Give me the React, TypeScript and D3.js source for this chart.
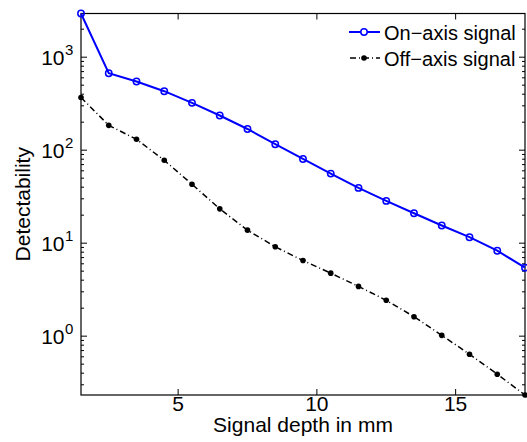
import React from "react";
import * as d3 from "d3";

const depths = [1.5, 2.5, 3.5, 4.5, 5.5, 6.5, 7.5, 8.5, 9.5, 10.5, 11.5, 12.5, 13.5, 14.5, 15.5, 16.5, 17.5];
const onAxis = [2950, 673, 547, 431, 323, 236, 169, 116, 80.5, 56, 39.3, 28.5, 21, 15.5, 11.6, 8.3, 5.45];
const offAxis = [369, 185, 131, 77.8, 43, 23.4, 13.8, 9.15, 6.5, 4.76, 3.43, 2.43, 1.62, 1.02, 0.64, 0.39, 0.233];
const xTicks = [5, 10, 15];
const yTickExps = [0, 1, 2, 3];
const seriesNames = ["On\u2212axis signal", "Off\u2212axis signal"];

const W = 527, H = 442;
const L = 81, R = 525, T = 13.5, B = 395;
const FONT = "Liberation Sans, Arial, Helvetica, sans-serif";
const FS = 21;

export default function App() {
  const x = d3.scaleLinear().domain([1.5, 17.5]).range([L, R]);
  const y = d3.scaleLog().domain([offAxis[offAxis.length - 1], onAxis[0]]).range([B, T]);
  const line = d3.line<number>().x((_, i) => x(depths[i])).y((v) => y(v));

  const minor: number[] = [];
  for (let e = -1; e <= 3; e++) {
    for (let m = 2; m <= 9; m++) {
      const v = m * Math.pow(10, e);
      if (v >= y.domain()[0] && v <= y.domain()[1]) minor.push(v);
    }
  }

  return (
    <svg width={W} height={H} style={{ position: "absolute", left: 0, top: 0 }} fontFamily={FONT}>
      <rect x={0} y={0} width={W} height={H} fill="#fff" />
      {minor.map((v, i) => (
        <g key={"m" + i} stroke="#000" strokeWidth={1}>
          <line x1={L} x2={L + 3} y1={y(v)} y2={y(v)} />
          <line x1={R} x2={R - 3} y1={y(v)} y2={y(v)} />
        </g>
      ))}
      {yTickExps.map((e) => {
        const v = Math.pow(10, e);
        const yy = y(v);
        return (
          <g key={"y" + e}>
            <line x1={L} x2={L + 6} y1={yy} y2={yy} stroke="#000" strokeWidth={1} />
            <line x1={R} x2={R - 6} y1={yy} y2={yy} stroke="#000" strokeWidth={1} />
            <text x={64.5} y={yy + 7.5} fontSize={FS} textAnchor="end" fill="#000">10</text>
            <text x={65} y={yy - 2} fontSize={15} textAnchor="start" fill="#000">{e}</text>
          </g>
        );
      })}
      {xTicks.map((t) => (
        <g key={"x" + t}>
          <line x1={x(t)} x2={x(t)} y1={B} y2={B - 6} stroke="#000" strokeWidth={1} />
          <line x1={x(t)} x2={x(t)} y1={T} y2={T + 6} stroke="#000" strokeWidth={1} />
          <text x={x(t)} y={411} fontSize={FS} textAnchor="middle" fill="#000">{t}</text>
        </g>
      ))}
      <rect x={L} y={T} width={R - L} height={B - T} fill="none" stroke="#000" strokeWidth={1.2} />
      <path d={line(offAxis) || ""} fill="none" stroke="#000" strokeWidth={1.5} strokeDasharray="6,3,1,3" />
      {offAxis.map((v, i) => (
        <circle key={"o" + i} cx={x(depths[i])} cy={y(v)} r={2.8} fill="#000" />
      ))}
      <path d={line(onAxis) || ""} fill="none" stroke="#0000ff" strokeWidth={2} />
      {onAxis.map((v, i) => (
        <circle key={"n" + i} cx={x(depths[i])} cy={y(v)} r={3.2} fill="none" stroke="#0000ff" strokeWidth={1.5} />
      ))}
      <g>
        <line x1={349} x2={380} y1={32} y2={32} stroke="#0000ff" strokeWidth={2} />
        <circle cx={364} cy={32} r={3.2} fill="#fff" stroke="#0000ff" strokeWidth={1.5} />
        <text x={384} y={39.5} fontSize={20} fill="#000">{seriesNames[0]}</text>
        <line x1={350} x2={380} y1={58} y2={58} stroke="#000" strokeWidth={1.5} strokeDasharray="6,3,1,3" />
        <circle cx={364} cy={58} r={2.8} fill="#000" />
        <text x={384} y={65.5} fontSize={20} fill="#000">{seriesNames[1]}</text>
      </g>
      <text x={(L + R) / 2} y={432} fontSize={FS} textAnchor="middle" fill="#000">Signal depth in mm</text>
      <text transform={`translate(30,${(T + B) / 2}) rotate(-90)`} fontSize={FS} textAnchor="middle" fill="#000">Detectability</text>
    </svg>
  );
}
